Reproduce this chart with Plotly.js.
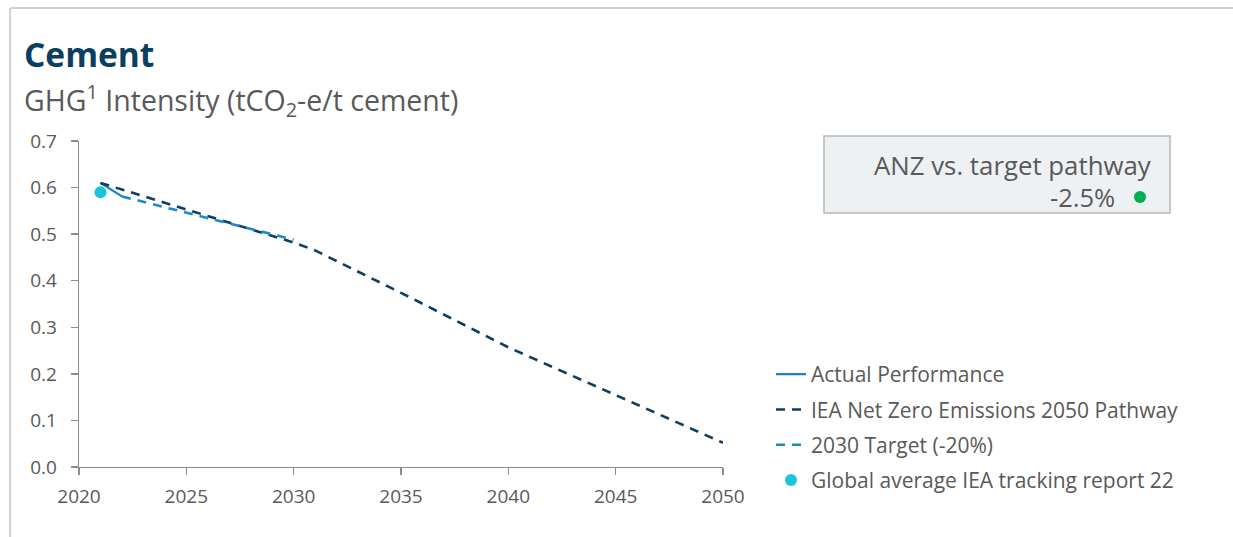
<!DOCTYPE html>
<html>
<head>
<meta charset="utf-8">
<script src="https://cdn.plot.ly/plotly-3.0.1.min.js"></script>
<style>
html,body{margin:0;padding:0;background:#fff;}
#chart{width:1233px;height:537px;}
</style>
</head>
<body>
<div id="chart"></div>
<script>
// ---- data ----
const actualYears = [2021, 2022];
const actualValues = [0.61, 0.581];

const nzeYears = [2021, 2030, 2031, 2035, 2040, 2045, 2050];
const nzeValues = [0.61, 0.482, 0.465, 0.374, 0.257, 0.154, 0.052];

const targetYears = [2022, 2030];
const targetValues = [0.581, 0.488];

const globalYears = [2021];
const globalValues = [0.59];

const xTickVals = [2020, 2025, 2030, 2035, 2040, 2045, 2050];
const yTickVals = [0, 0.1, 0.2, 0.3, 0.4, 0.5, 0.6, 0.7];

const seriesNames = ['Actual Performance', 'IEA Net Zero Emissions 2050 Pathway', '2030 Target (-20%)', 'Global average IEA tracking report 22'];

// ---- layout helpers (pixel -> paper) ----
const W = 1233, H = 537;
const L = 79, R = 723, T = 141, B = 467;
const px = x => (x - L) / (R - L);
const py = y => (B - y) / (B - T);

const FONT = 'Open Sans, DejaVu Sans, sans-serif';
const GRAY = '#595959';

const traces = [
  {x: actualYears, y: actualValues, mode: 'lines', name: seriesNames[0], legendgroup: 'a',
   line: {color: '#1a7fc1', width: 2.2}},
  {x: nzeYears, y: nzeValues, mode: 'lines', name: seriesNames[1], legendgroup: 'b',
   line: {color: '#0d3f63', width: 2.6, dash: '9px,7px'}},
  {x: targetYears, y: targetValues, mode: 'lines', name: seriesNames[2], legendgroup: 'c',
   line: {color: '#1c8ac9', width: 2.6, dash: '9px,7px'}},
  {x: globalYears, y: globalValues, mode: 'markers', name: seriesNames[3], legendgroup: 'd',
   marker: {color: '#1cc3dc', size: 12}}
];

const layout = {
  width: W, height: H,
  margin: {l: L, r: W - R, t: T, b: H - B, pad: 0},
  paper_bgcolor: '#ffffff', plot_bgcolor: '#ffffff',
  font: {family: FONT, color: GRAY, size: 19},
  showlegend: true,
  legend: {
    x: px(771), y: py(354), xanchor: 'left', yanchor: 'top',
    font: {family: FONT, size: 21, color: GRAY},
    traceorder: 'grouped', tracegroupgap: 5,
    bgcolor: 'rgba(0,0,0,0)', itemwidth: 30
  },
  xaxis: {
    range: [2020, 2050], tickvals: xTickVals, ticktext: xTickVals.map(String),
    showgrid: false, zeroline: false, showline: true, linecolor: '#8c8c8c', linewidth: 1.3,
    ticks: 'outside', ticklen: 7, tickcolor: '#8c8c8c', tickwidth: 1.3,
    tickfont: {family: FONT, size: 19, color: GRAY}, ticklabelstandoff: 5, fixedrange: true
  },
  yaxis: {
    range: [0, 0.7], tickvals: yTickVals, ticktext: yTickVals.map(v => v.toFixed(1)),
    showgrid: false, zeroline: false, showline: true, linecolor: '#8c8c8c', linewidth: 1.3,
    ticks: 'outside', ticklen: 7, tickcolor: '#8c8c8c', tickwidth: 1.3,
    tickfont: {family: FONT, size: 19, color: GRAY}, ticklabelstandoff: 10, fixedrange: true
  },
  shapes: [
    // outer frame
    {type: 'line', xref: 'paper', yref: 'paper', x0: px(10), x1: px(10), y0: py(8), y1: py(540),
     line: {color: '#d0d0d0', width: 2}},
    {type: 'line', xref: 'paper', yref: 'paper', x0: px(10), x1: px(1240), y0: py(8), y1: py(8),
     line: {color: '#d0d0d0', width: 2}},
    // box
    {type: 'rect', xref: 'paper', yref: 'paper', x0: px(824), x1: px(1170), y0: py(136), y1: py(213),
     fillcolor: '#eef1f4', line: {color: '#b8b8b8', width: 1.5}},
    // green dot
    {type: 'circle', xref: 'paper', yref: 'paper', x0: px(1134), x1: px(1146), y0: py(191), y1: py(203),
     fillcolor: '#00b050', line: {color: '#00b050', width: 0}}
  ],
  annotations: [
    {xref: 'paper', yref: 'paper', x: px(22), y: py(54), xanchor: 'left', yanchor: 'middle', showarrow: false,
     text: '<b>Cement</b>', font: {family: FONT, size: 33.5, color: '#0c3e5f'}},
    {xref: 'paper', yref: 'paper', x: px(22), y: py(100), xanchor: 'left', yanchor: 'middle', showarrow: false,
     text: 'GHG<sup>1</sup> Intensity (tCO<sub>2</sub>-e/t cement)', font: {family: FONT, size: 28.5, color: GRAY}},
    {xref: 'paper', yref: 'paper', x: px(1153), y: py(165), xanchor: 'right', yanchor: 'middle', showarrow: false,
     text: 'ANZ vs. target pathway', font: {family: FONT, size: 25.8, color: GRAY}},
    {xref: 'paper', yref: 'paper', x: px(1117), y: py(197), xanchor: 'right', yanchor: 'middle', showarrow: false,
     text: '-2.5%', font: {family: FONT, size: 25.5, color: GRAY}}
  ]
};

Plotly.newPlot('chart', traces, layout, {displayModeBar: false, staticPlot: true});
</script>
</body>
</html>
